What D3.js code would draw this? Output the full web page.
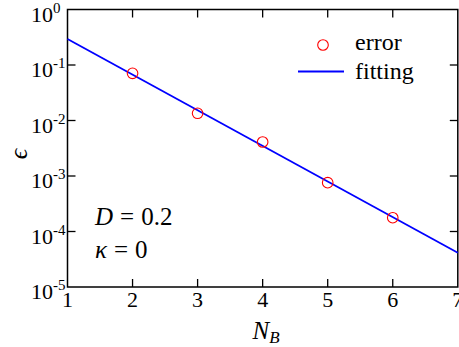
<!DOCTYPE html>
<html><head><meta charset="utf-8">
<script src="https://cdn.jsdelivr.net/npm/d3@7"></script>
<style>
body{margin:0;background:#fff;}
</style></head>
<body>
<svg id="c" width="459" height="347"></svg>
<script>
const errN = [2, 3, 4, 5, 6];
const errVal = [0.0708, 0.0135, 0.0041, 0.000757, 0.000177];
const fitN = [1, 7];
const fitVal = [0.295, 0.0000415];
const xTicks = [1, 2, 3, 4, 5, 6, 7];
const yExps = [0, -1, -2, -3, -4, -5];

const FONT = "Liberation Serif";
const svg = d3.select("#c");
const L = 67.5, R = 457.8, T = 9.5, B = 287;
const x = d3.scaleLinear().domain([1, 7]).range([L, R]);
const y = d3.scaleLog().domain([1e-5, 1]).range([B, T]);

const g = svg.append("g");
function txt(parent) { return parent.append("text").attr("font-family", FONT); }

g.append("rect").attr("x", L).attr("y", T).attr("width", R - L).attr("height", B - T)
  .attr("fill", "none").attr("stroke", "#000").attr("stroke-width", 1.5);

const tl = 8;
xTicks.forEach(v => {
  if (v === 1 || v === 7) return;
  g.append("line").attr("x1", x(v)).attr("x2", x(v)).attr("y1", B).attr("y2", B - tl).attr("stroke", "#000").attr("stroke-width", 1.3);
  g.append("line").attr("x1", x(v)).attr("x2", x(v)).attr("y1", T).attr("y2", T + tl).attr("stroke", "#000").attr("stroke-width", 1.3);
});
xTicks.forEach(v => {
  txt(g).attr("x", x(v)).attr("y", B + 20).attr("text-anchor", "middle")
    .attr("font-size", 22).text(v);
});
yExps.forEach(e => {
  const yy = y(Math.pow(10, e));
  if (e !== 0 && e !== -5) {
    g.append("line").attr("x1", L).attr("x2", L + tl).attr("y1", yy).attr("y2", yy).attr("stroke", "#000").attr("stroke-width", 1.3);
    g.append("line").attr("x1", R).attr("x2", R - tl).attr("y1", yy).attr("y2", yy).attr("stroke", "#000").attr("stroke-width", 1.3);
  }
  const t = txt(g).attr("x", 31).attr("y", yy + 12).attr("font-size", 22);
  t.append("tspan").text("10");
  t.append("tspan").attr("dy", -9).attr("font-size", 15).text(e === 0 ? "0" : "-" + Math.abs(e));
});

const line = d3.line().x(d => x(d[0])).y(d => y(d[1]));
g.append("path").datum(fitN.map((n, i) => [n, fitVal[i]]))
  .attr("d", line).attr("fill", "none").attr("stroke", "#0000ff").attr("stroke-width", 1.8);

g.selectAll("circle.pt").data(errN.map((n, i) => [n, errVal[i]])).enter().append("circle")
  .attr("cx", d => x(d[0])).attr("cy", d => y(d[1])).attr("r", 5.3)
  .attr("fill", "none").attr("stroke", "#ff0000").attr("stroke-width", 1.1);

g.append("circle").attr("cx", 323).attr("cy", 45).attr("r", 5.3).attr("fill", "none").attr("stroke", "#ff0000").attr("stroke-width", 1.1);
txt(g).attr("x", 355).attr("y", 50).attr("font-size", 24).text("error");
g.append("line").attr("x1", 298).attr("x2", 344).attr("y1", 71.5).attr("y2", 71.5).attr("stroke", "#0000ff").attr("stroke-width", 1.8);
txt(g).attr("x", 355).attr("y", 79).attr("font-size", 24).text("fitting");

const a1 = txt(g).attr("x", 95).attr("y", 225).attr("font-size", 25);
a1.append("tspan").attr("font-style", "italic").text("D");
a1.append("tspan").attr("dx", 7).text("=");
a1.append("tspan").attr("dx", 7).text("0.2");
const a2 = txt(g).attr("x", 95).attr("y", 258).attr("font-size", 25);
a2.append("tspan").attr("font-style", "italic").text("κ");
a2.append("tspan").attr("dx", 7).text("=");
a2.append("tspan").attr("dx", 7).text("0");

const xl = txt(g).attr("x", 266).attr("y", 339).attr("text-anchor", "middle").attr("font-size", 25);
xl.append("tspan").attr("font-style", "italic").text("N");
xl.append("tspan").attr("font-style", "italic").attr("font-size", 17).attr("dy", 4).text("B");
txt(g).attr("transform", "translate(27,154) rotate(-90)").attr("text-anchor", "middle")
  .attr("font-size", 26).attr("font-style", "italic").text("ϵ");
</script>
</body></html>
